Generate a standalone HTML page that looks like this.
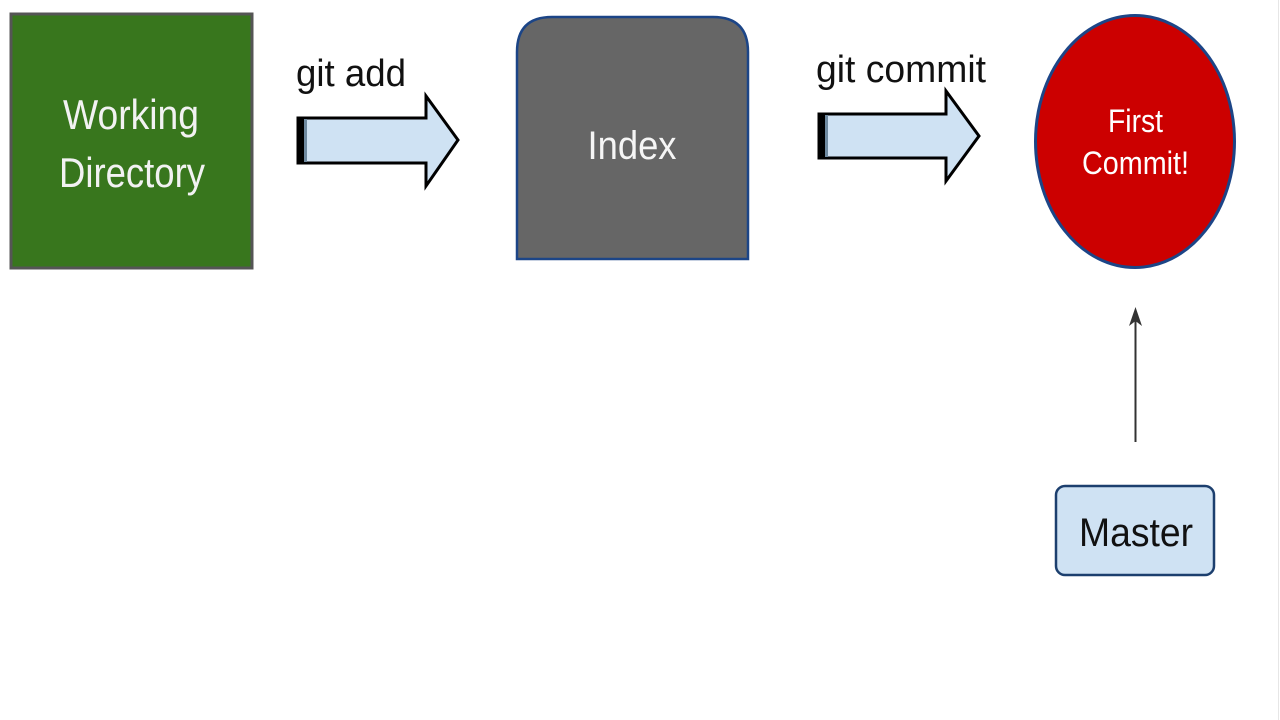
<!DOCTYPE html>
<html>
<head>
<meta charset="utf-8">
<style>
html,body{margin:0;padding:0;background:#fff;}
svg{display:block;}
text{font-family:"Liberation Sans",sans-serif;}
</style>
</head>
<body>
<svg width="1280" height="720" viewBox="0 0 1280 720" xmlns="http://www.w3.org/2000/svg">
  <rect x="0" y="0" width="1280" height="720" fill="#fff"/>
  <line x1="1278.5" y1="0" x2="1278.5" y2="720" stroke="#e6e6e6" stroke-width="1"/>

  <!-- Working Directory -->
  <rect x="11" y="14" width="241" height="254" fill="#38761d" stroke="#555" stroke-width="3"/>
  <text x="131" y="129" fill="#f2f2f2" font-size="42" text-anchor="middle" textLength="136" lengthAdjust="spacingAndGlyphs">Working</text>
  <text x="132" y="187" fill="#f2f2f2" font-size="42" text-anchor="middle" textLength="146" lengthAdjust="spacingAndGlyphs">Directory</text>

  <!-- git add arrow -->
  <text x="296" y="86" fill="#111" font-size="38" textLength="110" lengthAdjust="spacingAndGlyphs">git add</text>
  <path d="M298,118 L426,118 L426,96 L458,140 L426,186 L426,163 L298,163 Z" fill="#cfe2f3" stroke="#000" stroke-width="3" stroke-linejoin="miter"/>
  <rect x="297" y="117" width="7" height="47" fill="#000"/>
  <rect x="304" y="119" width="3" height="43" fill="#6f8aa0"/>

  <!-- Index -->
  <path d="M517,259 L517,52 Q517,17 552,17 L713,17 Q748,17 748,52 L748,259 Z" fill="#666666" stroke="#1c4587" stroke-width="2.5"/>
  <text x="632" y="159" fill="#f5f5f5" font-size="40" text-anchor="middle" textLength="89" lengthAdjust="spacingAndGlyphs">Index</text>

  <!-- git commit arrow -->
  <text x="816" y="82" fill="#111" font-size="38" textLength="170" lengthAdjust="spacingAndGlyphs">git commit</text>
  <path d="M819,114 L946,114 L946,91 L979,136 L946,181 L946,158 L819,158 Z" fill="#cfe2f3" stroke="#000" stroke-width="3" stroke-linejoin="miter"/>
  <rect x="818" y="113" width="7" height="46" fill="#000"/>
  <rect x="825" y="115" width="3" height="42" fill="#6f8aa0"/>

  <!-- First Commit circle -->
  <ellipse cx="1135" cy="141.5" rx="99.5" ry="126" fill="#cc0000" stroke="#1c4587" stroke-width="3"/>
  <text x="1135.5" y="132" fill="#fff" font-size="32" text-anchor="middle" textLength="55" lengthAdjust="spacingAndGlyphs">First</text>
  <text x="1135.5" y="174" fill="#fff" font-size="32" text-anchor="middle" textLength="107" lengthAdjust="spacingAndGlyphs">Commit!</text>

  <!-- pointer arrow -->
  <line x1="1135.5" y1="442" x2="1135.5" y2="318" stroke="#333" stroke-width="2"/>
  <path d="M1135.5,307 L1129,326 L1135.5,321 L1142,326 Z" fill="#333"/>

  <!-- Master -->
  <rect x="1056" y="486" width="158" height="89" rx="9" ry="9" fill="#cfe2f3" stroke="#1c3f6e" stroke-width="2.5"/>
  <text x="1136" y="546" fill="#111" font-size="40" text-anchor="middle" textLength="114" lengthAdjust="spacingAndGlyphs">Master</text>
</svg>
</body>
</html>
